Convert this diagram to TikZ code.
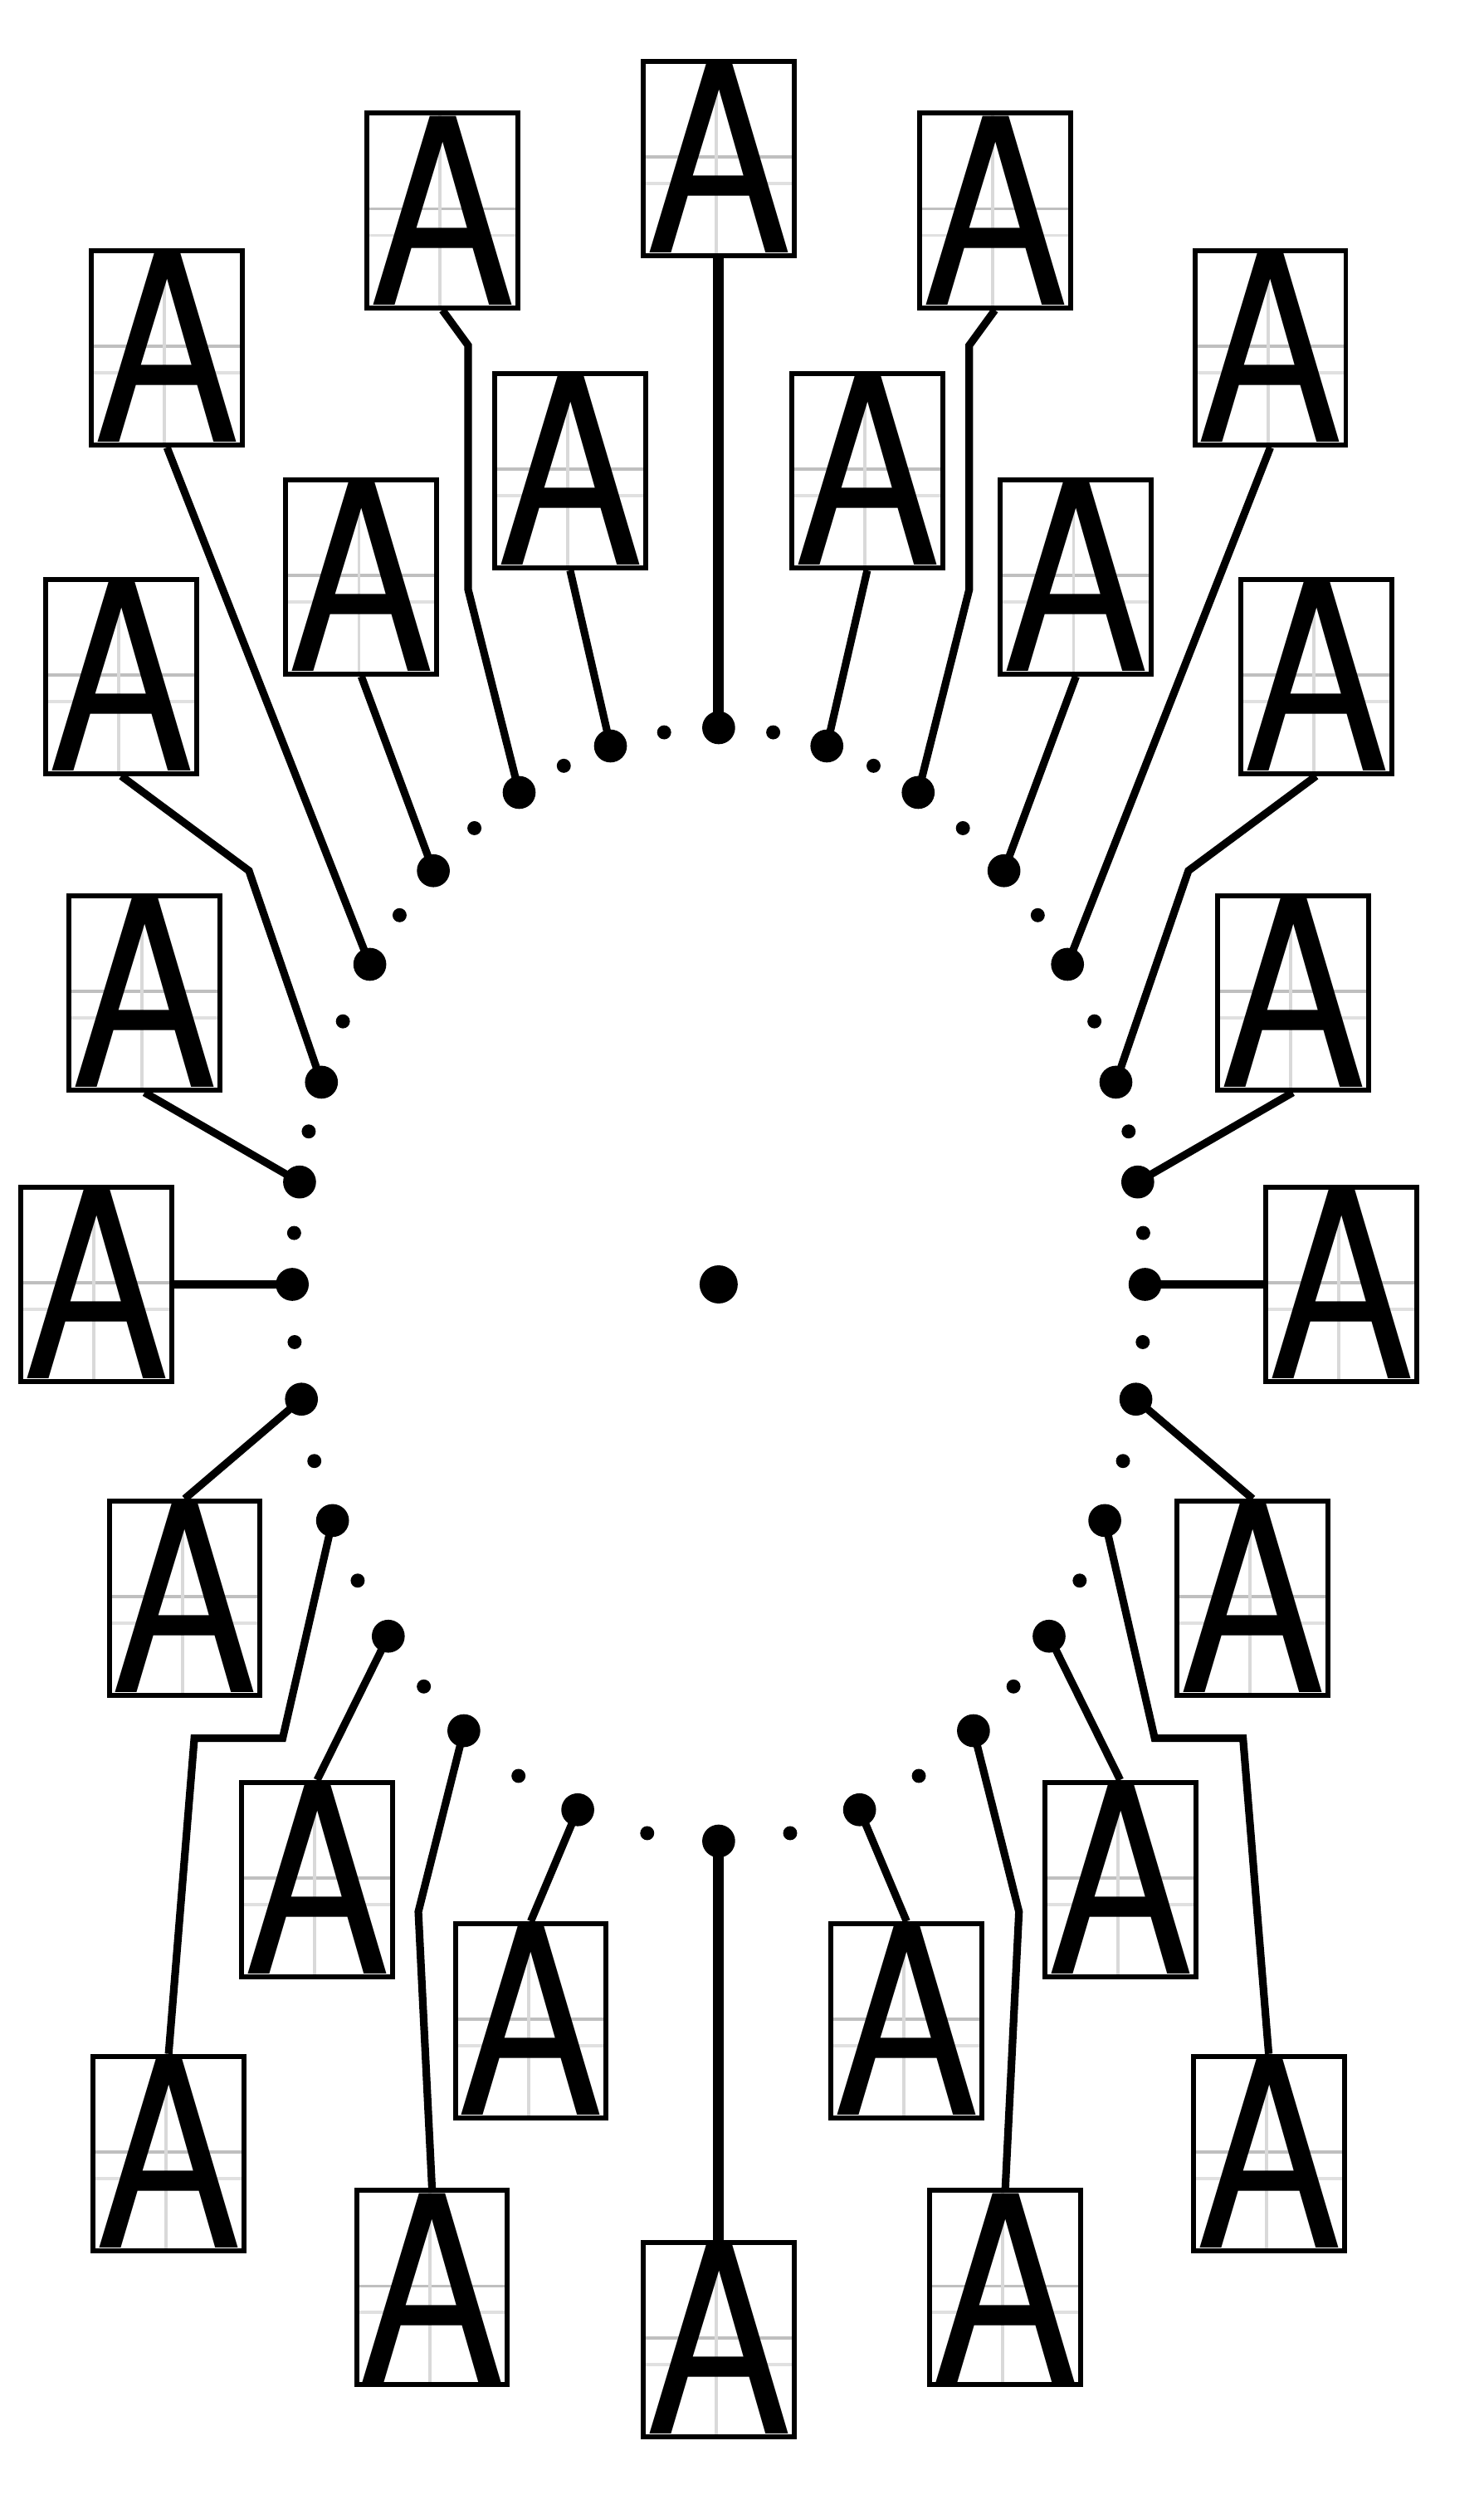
\documentclass[tikz,border=0pt]{standalone}
\usepackage{fontspec}
\newfontfamily\glyphfont{TeX Gyre Heros}
\usepackage{graphicx}

\tikzset{
  bigdot/.style={circle, fill, inner sep=0pt, minimum size=4.1mm},
  smalldot/.style={circle, fill, inner sep=0pt, minimum size=1.75mm},
  gridline/.style={black!25, line width=0.4mm},
  glyphbox/.style={draw, fill=white, line width=0.62mm, inner sep=0pt,
    minimum width=18.8mm, minimum height=24.2mm,
    path picture={
      \draw[gridline] ([yshift=0.2mm]path picture bounding box.west) -- ([yshift=0.2mm]path picture bounding box.east);
      \draw[gridline, black!12] ([yshift=-3.1mm]path picture bounding box.west) -- ([yshift=-3.1mm]path picture bounding box.east);
      \draw[gridline, black!15] ([xshift=-0.3mm]path picture bounding box.north) -- ([xshift=-0.3mm]path picture bounding box.south);
    }},
  lead/.style={line width=0.95mm},
  stem/.style={line width=1.35mm},
}
\newcommand{\glyph}{\resizebox{18.1mm}{23.5mm}{\glyphfont A}}

\begin{document}
\begin{tikzpicture}[x=0.2mm, y=0.2mm]
  \useasboundingbox (-447.5,-768.5) rectangle (476.5,799.5);

  % hub and the two dots on the axis
  \node[bigdot, minimum size=4.75mm] (hub) at (0,0) {};
  \node[bigdot] (dt) at (90:265.5 and 346.5) {};
  \node[bigdot] (db) at (-90:265.5 and 346.5) {};
  \node[glyphbox] (boxt) at (0,701) {\glyph};
  \node[glyphbox] (boxb) at (0,-657) {\glyph};
  \draw[stem] (dt.center) -- (boxt.south);
  \draw[stem] (db.center) -- (boxb.north);

  % right half, then the mirror image
  \foreach \s/\n in {1/r, -1/l} {
    \begin{scope}[xscale=\s]
      \foreach \a in {82.65,68.7,55.05,41.55,28.2,15.95,5.3,-5.95,-18.5,-32.15,-46.25,-62,-80.35}
        \node[smalldot] at (\a:265.5 and 346.5) {};
      \foreach \a [count=\i] in {75.3,62.1,48.0,35.1,21.3,10.6,0,-11.9,-25.1,-39.2,-53.3,-70.7}
        \node[bigdot] (d\n\i) at (\a:265.5 and 346.5) {};

      \foreach \i/\p in {1/{92.5,506.5}, 2/{172,668.5}, 3/{222.5,440.5}, 4/{343.5,583},
                         5/{372,378.5}, 6/{357.5,181.5}, 7/{387.5,0}, 8/{332.5,-195.5},
                         9/{342.5,-541}, 10/{250,-370.5}, 11/{178.5,-624.5}, 12/{117,-458.5}}
        \node[glyphbox] (box\n\i) at (\p) {\glyph};

      \coordinate (k\n2a) at (156,432.5);
      \coordinate (k\n2b) at (156,584.5);
      \coordinate (k\n5) at (292.5,257.5);
      \coordinate (k\n9a) at (271.5,-282.5);
      \coordinate (k\n9b) at (326.5,-282.5);
      \coordinate (k\n11) at (187,-390.5);

      \foreach \i/\e in {1/south, 3/south, 4/south, 6/south, 8/north, 10/north, 12/north}
        \draw[lead] (d\n\i.center) -- (box\n\i.\e);
      \draw[lead] (d\n7.center) -- (box\n7);
      \draw[lead] (d\n2.center) -- (k\n2a) -- (k\n2b) -- (box\n2.south);
      \draw[lead] (d\n5.center) -- (k\n5) -- (box\n5.south);
      \draw[lead] (d\n9.center) -- (k\n9a) -- (k\n9b) -- (box\n9.north);
      \draw[lead] (d\n11.center) -- (k\n11) -- (box\n11.north);
    \end{scope}
  }
\end{tikzpicture}
\end{document}
